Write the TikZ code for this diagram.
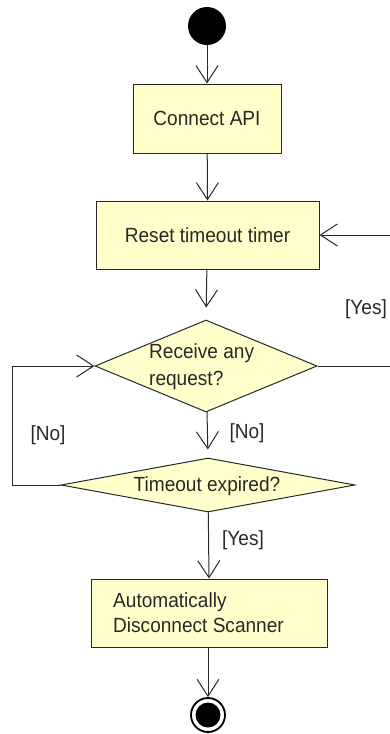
\documentclass[tikz,border=0pt]{standalone}
\usepackage{fontspec}
\setmainfont{Liberation Sans}[FakeStretch=0.93]
\usetikzlibrary{arrows.meta,shapes.geometric}
\definecolor{actfill}{RGB}{255,255,204}
\definecolor{ink}{RGB}{40,40,40}
\begin{document}
\begin{tikzpicture}[x=1pt,y=-1pt,
  font=\fontsize{20.5}{25}\selectfont,
  every node/.style={text=ink},
  flow/.style={draw=ink, line width=1pt, -{Straight Barb[length=17pt,width=22pt,line width=1pt]}},
  action/.style={draw=ink, line width=1pt, fill=actfill, inner sep=0pt},
  choice/.style={draw=ink, line width=1pt, fill=actfill, shape=diamond, inner sep=0pt},
  guard/.style={inner sep=0pt}]
\useasboundingbox (0,0) rectangle (390,734);
\clip (0,0) rectangle (390,734);

% initial node
\node[circle, fill=black, minimum size=38pt, inner sep=0pt] (start) at (207,26) {};

% actions
\node[action, minimum width=148pt, minimum height=69pt] (connect) at (207,118.5) {Connect API};
\node[action, minimum width=223pt, minimum height=68pt] (reset) at (207.5,235) {Reset timeout timer};

% decisions
\node[choice, minimum width=222pt, minimum height=92pt] (recv) at (206,366) {};
\node[guard, anchor=west, align=left, font=\fontsize{20.5}{27}\selectfont] (recvtext) at (149,367) {Receive any\\request?};
\node[choice, minimum width=294pt, minimum height=54pt] (expired) at (208,485) {};
\node[guard] (expiredtext) at (207,486) {Timeout expired?};

% final action
\node[action, minimum width=236pt, minimum height=68pt] (disc) at (209,613) {};
\node[guard, anchor=west, align=left] (disctext) at (113,612.5) {Automatically\\Disconnect Scanner};

% final node
\node[circle, draw=black, line width=1.8pt, fill=white, minimum size=34pt, inner sep=0pt] (final) at (208,715) {};
\node[circle, fill=black, minimum size=25pt, inner sep=0pt] (finaldot) at (final.center) {};

% loop corner points
\coordinate (leftbot) at (12,485);
\coordinate (lefttop) at (12,366);
\coordinate (rightlow) at (402,366);
\coordinate (righthigh) at (402,235);

% connectors
\draw[flow] (start) -- (connect.north);
\draw[flow] (connect) -- (reset.north);
\draw[flow, shorten >=12pt] (reset) -- (recv.north);
\draw[flow, shorten >=8pt] (recv) -- (expired.north);
\draw[flow] (expired) -- (disc.north);
\draw[flow] (disc.south -| final) -- (final.north);
\draw[flow] (expired.west) -- (leftbot) -- (lefttop) -- (recv.west);
\draw[flow] (recv.east) -- (rightlow) -- (righthigh) -- (reset.east);

% guards
\node[guard] (yesright) at (366,309) {[Yes]};
\node[guard] (nomid) at (247,433) {[No]};
\node[guard] (noleft) at (48,435) {[No]};
\node[guard] (yesbot) at (243,540) {[Yes]};
\end{tikzpicture}
\end{document}
